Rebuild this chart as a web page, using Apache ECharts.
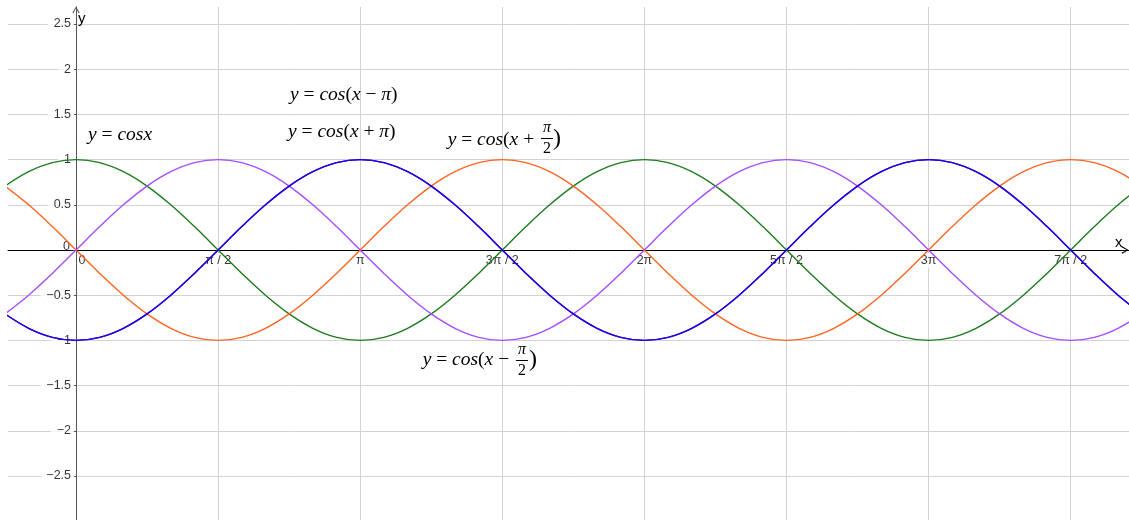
<!DOCTYPE html>
<html><head><meta charset="utf-8">
<script src="https://cdn.jsdelivr.net/npm/echarts@6/dist/echarts.min.js"></script>
<style>html,body{margin:0;padding:0;background:#fff}#chart{width:1129px;height:520px}</style>
</head><body><div id="chart"></div>
<script>
// sample positions (multiples of π/12)
const xSamples = [-0.7854,-0.5236,-0.2618,0,0.2618,0.5236,0.7854,1.0472,1.3090,1.5708,1.8326,2.0944,2.3562,2.6180,2.8798,3.1416,3.4034,3.6652,3.9270,4.1888,4.4506,4.7124,4.9742,5.2360,5.4978,5.7596,6.0214,6.2832,6.5450,6.8068,7.0686,7.3304,7.5922,7.8540,8.1158,8.3776,8.6394,8.9012,9.1630,9.4248,9.6866,9.9484,10.2102,10.4720,10.7338,10.9956,11.2574,11.5192,11.7810];
// y = cos x
const cosX = [0.707,0.866,0.966,1,0.966,0.866,0.707,0.5,0.259,0,-0.259,-0.5,-0.707,-0.866,-0.966,-1,-0.966,-0.866,-0.707,-0.5,-0.259,0,0.259,0.5,0.707,0.866,0.966,1,0.966,0.866,0.707,0.5,0.259,0,-0.259,-0.5,-0.707,-0.866,-0.966,-1,-0.966,-0.866,-0.707,-0.5,-0.259,0,0.259,0.5,0.707];
// y = cos(x + π/2)
const cosXplusHalfPi = [0.707,0.5,0.259,0,-0.259,-0.5,-0.707,-0.866,-0.966,-1,-0.966,-0.866,-0.707,-0.5,-0.259,0,0.259,0.5,0.707,0.866,0.966,1,0.966,0.866,0.707,0.5,0.259,0,-0.259,-0.5,-0.707,-0.866,-0.966,-1,-0.966,-0.866,-0.707,-0.5,-0.259,0,0.259,0.5,0.707,0.866,0.966,1,0.966,0.866,0.707];
// y = cos(x − π/2)
const cosXminusHalfPi = [-0.707,-0.5,-0.259,0,0.259,0.5,0.707,0.866,0.966,1,0.966,0.866,0.707,0.5,0.259,0,-0.259,-0.5,-0.707,-0.866,-0.966,-1,-0.966,-0.866,-0.707,-0.5,-0.259,0,0.259,0.5,0.707,0.866,0.966,1,0.966,0.866,0.707,0.5,0.259,0,-0.259,-0.5,-0.707,-0.866,-0.966,-1,-0.966,-0.866,-0.707];
// y = cos(x − π)
const cosXminusPi = [-0.707,-0.866,-0.966,-1,-0.966,-0.866,-0.707,-0.5,-0.259,0,0.259,0.5,0.707,0.866,0.966,1,0.966,0.866,0.707,0.5,0.259,0,-0.259,-0.5,-0.707,-0.866,-0.966,-1,-0.966,-0.866,-0.707,-0.5,-0.259,0,0.259,0.5,0.707,0.866,0.966,1,0.966,0.866,0.707,0.5,0.259,0,-0.259,-0.5,-0.707];
// y = cos(x + π)
const cosXplusPi = [-0.707,-0.866,-0.966,-1,-0.966,-0.866,-0.707,-0.5,-0.259,0,0.259,0.5,0.707,0.866,0.966,1,0.966,0.866,0.707,0.5,0.259,0,-0.259,-0.5,-0.707,-0.866,-0.966,-1,-0.966,-0.866,-0.707,-0.5,-0.259,0,0.259,0.5,0.707,0.866,0.966,1,0.966,0.866,0.707,0.5,0.259,0,-0.259,-0.5,-0.707];

const xTickValues = [0,1.5708,3.1416,4.7124,6.2832,7.8540,9.4248,10.9956];
const xTickLabels = ['0','π / 2','π','3π / 2','2π','5π / 2','3π','7π / 2'];
const yTickValues = [-2.5,-2,-1.5,-1,-0.5,0,0.5,1,1.5,2,2.5];
const yTickLabels = ['−2.5','−2','−1.5','−1','−0.5','0','0.5','1','1.5','2','2.5'];
const xRange = [-0.752, 11.64];
const yRange = [-2.987, 2.688];

function pts(ys){ return xSamples.map((x,i)=>[x, ys[i]]); }

const chevron = 'path://M0,86 L50,0 L100,86 L88,96 L50,24 L12,96 Z';
const labelFont = "'Liberation Sans', Arial, sans-serif";
const mathFont = "'Liberation Serif', 'DejaVu Serif', serif";
const MF = 19.5;

function curve(name, data, color){
  return {type:'line', name, data: pts(data), showSymbol:false, smooth:0.35, silent:true, z:3,
    lineStyle:{color, width:1.4}, itemStyle:{color}, clip:true, animation:false};
}
const tickRich = (pad)=>({
  n:{backgroundColor:'#fff', padding:pad, fontFamily:labelFont, fontSize:12.5, color:'#000'},
  zx:{padding:[1,0,1,12], fontFamily:labelFont, fontSize:12.5, color:'#000'},
  zy:{padding:[0,4,7,0], fontFamily:labelFont, fontSize:12.5, color:'#000'}
});
const xLabelSeries = {type:'scatter', name:'x ticks', silent:true, z:1, symbolSize:0,
  data: xTickValues.map((v,i)=>({value:[v,0], lbl:xTickLabels[i]})),
  label:{show:true, position:'bottom', distance:3,
    formatter:p=>p.data.lbl==='0' ? '{zx|0}' : '{n|'+p.data.lbl+'}', rich:tickRich([1,2])}};
const yLabelSeries = {type:'scatter', name:'y ticks', silent:true, z:1, symbolSize:0,
  data: yTickValues.map((v,i)=>({value:[0,v], lbl:yTickLabels[i]})),
  label:{show:true, position:'left', distance:2,
    formatter:p=>p.data.lbl==='0' ? '{zy|0}' : '{n|'+p.data.lbl+'}', rich:tickRich([1,3,1,6])}};

function mathText(x, y, text, align){
  return {type:'text', x, y, silent:true, z:10, style:{text, font:MF+"px "+mathFont, fill:'#000',
    align: align||'left', verticalAlign:'middle', rich:{i:{fontStyle:'italic', font:"italic "+MF+"px "+mathFont}}}};
}
function fracPi2(cx, cy){
  return [
    {type:'text', x:cx, y:cy-10, silent:true, z:10, style:{text:'π', font:"italic 16px "+mathFont, fill:'#000', align:'center', verticalAlign:'middle'}},
    {type:'line', silent:true, z:10, shape:{x1:cx-6, y1:cy+0.5, x2:cx+6, y2:cy+0.5}, style:{stroke:'#000', lineWidth:1}},
    {type:'text', x:cx, y:cy+11, silent:true, z:10, style:{text:'2', font:"16px "+mathFont, fill:'#000', align:'center', verticalAlign:'middle'}}
  ];
}
function paren(x, y){
  return {type:'text', x, y, silent:true, z:10, style:{text:')', font:"24px "+mathFont, fill:'#000', align:'left', verticalAlign:'middle'}};
}

const chart = echarts.init(document.getElementById('chart'));
chart.setOption({
  animation:false,
  backgroundColor:'#fff',
  grid:{left:8, right:0, top:7, bottom:0, containLabel:false, outerBoundsMode:'none'},
  xAxis:{type:'value', min:xRange[0], max:xRange[1],
    name:'x', nameLocation:'end', nameGap:-14,
    nameTextStyle:{fontFamily:labelFont, fontSize:15, color:'#000', align:'left', verticalAlign:'bottom'},
    axisLine:{onZero:true, lineStyle:{color:'#000', width:1}, symbol:['none', chevron], symbolSize:[8,7], symbolOffset:[0,-4]},
    axisTick:{show:false, customValues:xTickValues},
    axisLabel:{show:false, customValues:xTickValues},
    splitLine:{show:true, lineStyle:{color:'#d2d2d2', width:1}}
  },
  yAxis:{type:'value', min:yRange[0], max:yRange[1],
    name:'y', nameLocation:'end', nameGap:-4,
    nameTextStyle:{fontFamily:labelFont, fontSize:15, color:'#000', align:'left', verticalAlign:'top', padding:[0,0,0,2]},
    axisLine:{onZero:true, lineStyle:{color:'#555', width:1}, symbol:['none', chevron], symbolSize:[8,7], symbolOffset:[0,-3]},
    axisTick:{show:true, customValues:yTickValues, length:3, lineStyle:{color:'#555'}},
    axisLabel:{show:false, customValues:yTickValues},
    splitLine:{show:true, lineStyle:{color:'#d2d2d2', width:1}}
  },
  series:[
    xLabelSeries,
    yLabelSeries,
    curve('y = cos x', cosX, '#1e7b1e'),
    curve('y = cos(x + π/2)', cosXplusHalfPi, '#ff6420'),
    curve('y = cos(x − π/2)', cosXminusHalfPi, '#a64dff'),
    curve('y = cos(x + π)', cosXplusPi, '#3300cc'),
    curve('y = cos(x − π)', cosXminusPi, '#2200e6')
  ],
  graphic:[
    mathText(88, 135, '{i|y} = {i|cosx}'),
    mathText(290, 95, '{i|y} = {i|cos}({i|x} − {i|π})'),
    mathText(288, 132, '{i|y} = {i|cos}({i|x} + {i|π})'),
    mathText(539, 140, '{i|y} = {i|cos}({i|x} + ', 'right'),
    ...fracPi2(547, 138),
    paren(553, 139),
    mathText(514, 360, '{i|y} = {i|cos}({i|x} − ', 'right'),
    ...fracPi2(522, 360),
    paren(529, 360)
  ]
});
</script>
</body></html>
